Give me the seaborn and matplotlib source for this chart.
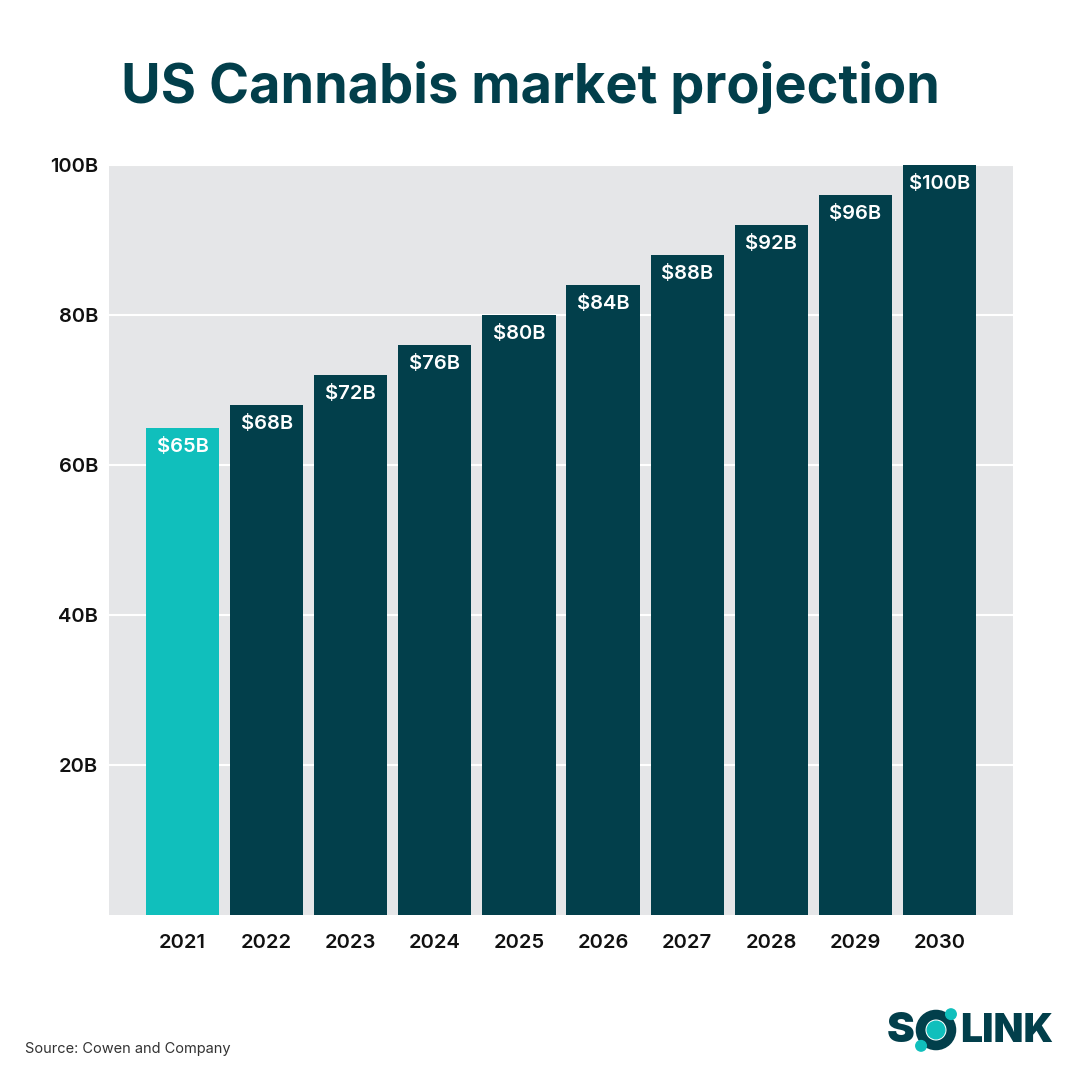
import matplotlib
matplotlib.use("Agg")
import matplotlib.pyplot as plt
import seaborn as sns
import pandas as pd
from matplotlib.patches import Circle

years = ["2021", "2022", "2023", "2024", "2025", "2026", "2027", "2028", "2029", "2030"]
values = [65, 68, 72, 76, 80, 84, 88, 92, 96, 100]
bar_labels = ["$65B", "$68B", "$72B", "$76B", "$80B", "$84B", "$88B", "$92B", "$96B", "$100B"]
y_ticks = [20, 40, 60, 80, 100]
y_tick_labels = ["20B", "40B", "60B", "80B", "100B"]

DARK = "#023F4B"
TEAL = "#10BFBC"
BG = "#E5E6E8"

sns.set_theme(style="white")
plt.rcParams["font.family"] = ["Inter", "DejaVu Sans"]

df = pd.DataFrame({"year": years, "value": values})
palette = [TEAL] + [DARK] * (len(years) - 1)

fig = plt.figure(figsize=(10.8, 10.8), dpi=100)
ax = fig.add_axes([109 / 1080, 1 - 915 / 1080, (1013 - 109) / 1080, (915 - 165) / 1080])
ax.set_facecolor(BG)

sns.barplot(data=df, x="year", y="value", hue="year", palette=palette,
            legend=False, width=0.87, saturation=1, ax=ax, zorder=3,
            linewidth=0, edgecolor="none")

ax.set_xlim(-0.875, 9.875)
ax.set_ylim(0, 100)
ax.set_yticks(y_ticks)
ax.set_yticklabels(y_tick_labels)
ax.yaxis.grid(True, color="white", linewidth=1.5, zorder=0)
ax.set_axisbelow(True)
for s in ax.spines.values():
    s.set_visible(False)
ax.set_xlabel("")
ax.set_ylabel("")
ax.tick_params(axis="both", length=0, labelsize=14.5, colors="#111111")
ax.tick_params(axis="x", pad=14)
ax.tick_params(axis="y", pad=8)
for lbl in ax.get_xticklabels() + ax.get_yticklabels():
    lbl.set_fontweight("semibold")

for i, (v, t) in enumerate(zip(values, bar_labels)):
    ax.annotate(t, (i, v), xytext=(0, -19), textcoords="offset pixels",
                ha="center", va="center", color="white", fontsize=14.5,
                fontweight="semibold", zorder=5)

fig.text(530 / 1080, 1 - 88 / 1080, "US Cannabis market projection", ha="center",
         va="center", fontsize=39, fontweight="bold", color=DARK)

fig.text(25 / 1080, 1 - 1049 / 1080, "Source: Cowen and Company", ha="left",
         va="center", fontsize=10.5, color="#333333")

# Logo
fig.text(887 / 1080, 1 - 1031 / 1080, "S", ha="left", va="center",
         fontsize=30, fontweight="black", color=DARK)
fig.text(960 / 1080, 1 - 1031 / 1080, "LINK", ha="left", va="center",
         fontsize=28, fontweight="black", color=DARK)
lax = fig.add_axes([914 / 1080, 1 - 1052 / 1080, 44 / 1080, 44 / 1080])
lax.set_xlim(0, 1)
lax.set_ylim(0, 1)
lax.axis("off")
lax.add_patch(Circle((0.5, 0.5), 0.35, fill=False, lw=7, edgecolor=DARK))
lax.add_patch(Circle((0.5, 0.5), 0.2, color=TEAL))
lax.add_patch(Circle((0.84, 0.86), 0.12, color=TEAL))
lax.add_patch(Circle((0.16, 0.14), 0.12, color=TEAL))

fig.savefig("out.png", dpi=100, facecolor="white")
